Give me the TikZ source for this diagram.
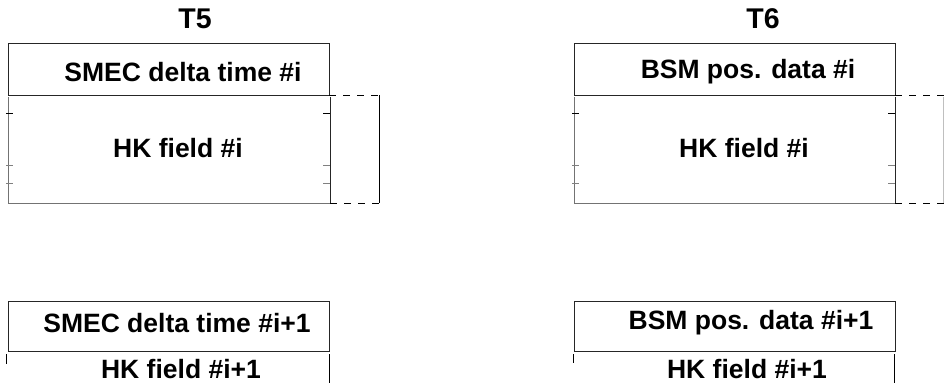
\documentclass[tikz,border=0pt]{standalone}
\usepackage{fontspec}
\setmainfont{Liberation Sans}
\begin{document}
\begin{tikzpicture}[x=1pt,y=-1pt,
  lbl/.style={font=\fontsize{26.5}{30}\selectfont\bfseries, inner sep=0pt, anchor=center},
  ttl/.style={font=\fontsize{28.5}{32}\selectfont\bfseries, inner sep=0pt, anchor=center},
  frame/.style={draw=black!85, line width=0.9pt},
  greyline/.style={draw=black!55, line width=1pt},
  tick/.style={draw=black, line width=0.9pt},
  gtick/.style={draw=black!50, line width=1pt},
  dashline/.style={draw=black, line width=0.9pt, dash pattern=on 7pt off 7pt},
  span/.style={draw=black, line width=0.9pt},
]
\useasboundingbox (0,0) rectangle (944,383);

% ---------- left column: T5 ----------
\node[ttl] (t5) at (195,19) {T5};
\coordinate (a1) at (8,43);
\coordinate (a2) at (329,95);
\draw[frame] (a1) rectangle (a2);
\node[lbl] (smec) at (183,72) {SMEC delta time \#i};
% housekeeping field of frame i
\coordinate (hA) at (8,97);
\coordinate (hB) at (8,203);
\coordinate (hC) at (330,203);
\coordinate (hD) at (330,97);
\draw[greyline] (hA) -- (hB) -- (hC);
\draw[frame] (hC) -- (hD);
\node[lbl] (hk5) at (178,148) {HK field \#i};
\draw[tick]  (6,113) -- (13,113);
\draw[gtick] (6,165) -- (13,165);
\draw[gtick] (6,183) -- (13,183);
\draw[tick]  (323,113) -- (330,113);
\draw[gtick] (323,165) -- (330,165);
\draw[gtick] (323,183) -- (330,183);
\coordinate (d1) at (385,95);
\coordinate (d2) at (385,203);
\draw[dashline] (a2) -- (d1);
\draw[dashline] (hC) -- (d2);
\coordinate (v1) at (379,95);
\coordinate (v2) at (379,203);
\draw[span] (v1) -- (v2);

% next frame
\coordinate (b1) at (8,301);
\coordinate (b2) at (329,351);
\draw[frame] (b1) rectangle (b2);
\node[lbl] (smec2) at (177,323) {SMEC delta time \#i+1};
\node[lbl] (hk5b) at (181,369) {HK field \#i+1};
\draw[tick] (6,354) -- (6,364);
\draw[tick] (329,354) -- (329,383);

% ---------- right column: T6 ----------
\node[ttl] (t6) at (763,19) {T6};
\coordinate (c1) at (574,43);
\coordinate (c2) at (895,95);
\draw[frame] (c1) rectangle (c2);
\node[lbl] (bsm) at (748,72) {BSM pos. data \#i};
\coordinate (kA) at (574,97);
\coordinate (kB) at (574,203);
\coordinate (kC) at (895,203);
\coordinate (kD) at (895,97);
\draw[greyline] (kA) -- (kB) -- (kC);
\draw[frame] (kC) -- (kD);
\node[lbl] (hk6) at (744,148) {HK field \#i};
\draw[tick]  (572,113) -- (579,113);
\draw[gtick] (572,165) -- (579,165);
\draw[gtick] (572,183) -- (579,183);
\draw[tick]  (888,113) -- (895,113);
\draw[gtick] (888,165) -- (895,165);
\draw[gtick] (888,183) -- (895,183);
\coordinate (e1) at (944,95);
\coordinate (e2) at (944,203);
\draw[dashline] (c2) -- (e1);
\draw[dashline] (kC) -- (e2);
\coordinate (w1) at (943,97);
\coordinate (w2) at (943,203);
\draw[draw=black!25, line width=0.9pt] (w1) -- (w2);

% next frame
\coordinate (f1) at (574,301);
\coordinate (f2) at (895,351);
\draw[frame] (f1) rectangle (f2);
\node[lbl] (bsm2) at (751,323) {BSM pos. data \#i+1};
\node[lbl] (hk6b) at (747,369) {HK field \#i+1};
\draw[tick] (573,354) -- (573,363);
\draw[tick] (894,354) -- (894,383);
\end{tikzpicture}
\end{document}
